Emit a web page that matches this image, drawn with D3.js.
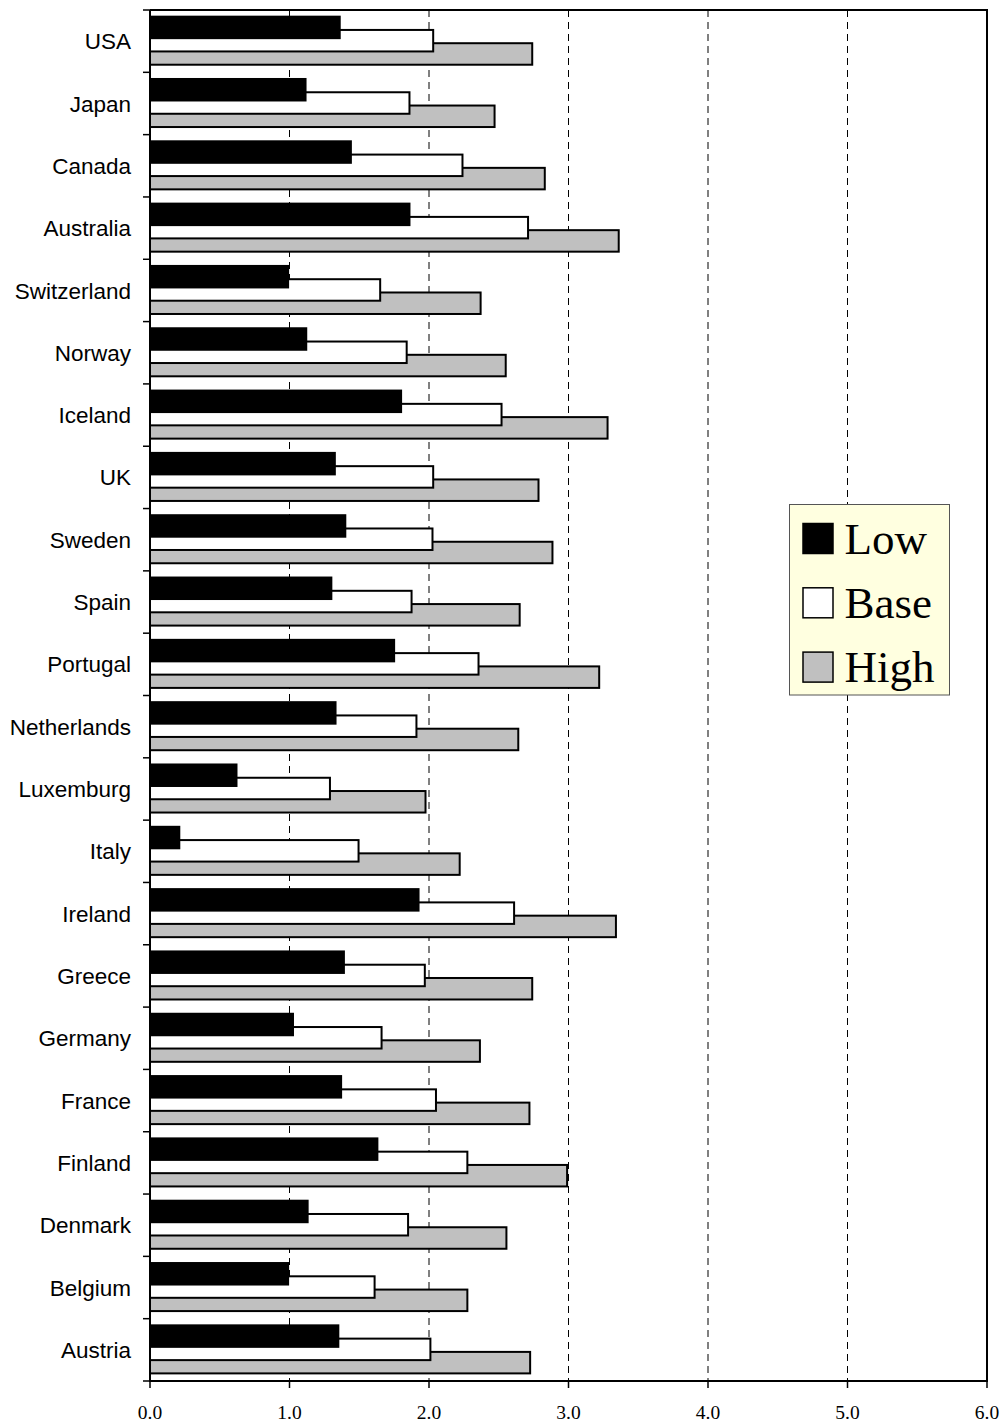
<!DOCTYPE html>
<html>
<head>
<meta charset="utf-8">
<script src="https://cdn.jsdelivr.net/npm/d3@7/dist/d3.min.js"></script>
<style>
  html, body { margin: 0; padding: 0; background: #fff; }
  svg { display: block; }
</style>
</head>
<body>
<svg id="chart" width="1004" height="1425"></svg>
<script>
// Countries, top to bottom
const countries = ["USA", "Japan", "Canada", "Australia", "Switzerland", "Norway", "Iceland",
  "UK", "Sweden", "Spain", "Portugal", "Netherlands", "Luxemburg", "Italy", "Ireland",
  "Greece", "Germany", "France", "Finland", "Denmark", "Belgium", "Austria"];

// Scenario values per country
const lowValues  = [1.36, 1.115, 1.44, 1.86, 0.99, 1.12, 1.80, 1.325, 1.40, 1.30, 1.75, 1.33,
  0.62, 0.21, 1.925, 1.39, 1.025, 1.37, 1.63, 1.13, 0.99, 1.35];
const baseValues = [2.03, 1.86, 2.24, 2.71, 1.65, 1.84, 2.52, 2.03, 2.025, 1.875, 2.355, 1.91,
  1.29, 1.495, 2.61, 1.97, 1.66, 2.05, 2.275, 1.85, 1.61, 2.01];
const highValues = [2.74, 2.47, 2.83, 3.36, 2.37, 2.55, 3.28, 2.785, 2.885, 2.65, 3.22, 2.64,
  1.975, 2.22, 3.34, 2.74, 2.365, 2.72, 2.99, 2.555, 2.275, 2.725];

const seriesNames = ["Low", "Base", "High"];
const xTicks = [0, 1, 2, 3, 4, 5, 6];

const series = [
  { name: seriesNames[0], values: lowValues,  fill: "#000000", slot: 0 },
  { name: seriesNames[1], values: baseValues, fill: "#ffffff", slot: 1 },
  { name: seriesNames[2], values: highValues, fill: "#c0c0c0", slot: 2 }
];

const svg = d3.select("#chart");
const plot = { left: 150, right: 987, top: 10, bottom: 1381 };

const x = d3.scaleLinear().domain([0, 6]).range([plot.left, plot.right]);
const y = d3.scaleBand().domain(countries).range([plot.top, plot.bottom]).padding(0);
const bw = y.bandwidth();

// Dashed vertical gridlines
svg.append("g")
  .selectAll("line")
  .data(xTicks.slice(1, -1))
  .join("line")
  .attr("x1", d => x(d)).attr("x2", d => x(d))
  .attr("y1", plot.top).attr("y2", plot.bottom)
  .attr("stroke", "#000")
  .attr("stroke-width", 1)
  .attr("stroke-dasharray", "7,5");

// Overlapping bars: High at the back, Low in front
const barH = bw * 0.345;
const barStep = bw * 0.213;
const barOff = bw * 0.107;

const drawOrder = [series[2], series[1], series[0]];
drawOrder.forEach(s => {
  svg.append("g")
    .selectAll("rect")
    .data(countries.map((c, i) => ({ c, v: s.values[i] })))
    .join("rect")
    .attr("x", x(0))
    .attr("y", d => y(d.c) + barOff + s.slot * barStep)
    .attr("width", d => x(d.v) - x(0))
    .attr("height", barH)
    .attr("fill", s.fill)
    .attr("stroke", "#000")
    .attr("stroke-width", 2);
});

// Plot frame (top and right edges)
svg.append("path")
  .attr("d", `M${plot.left},${plot.top}H${plot.right}V${plot.bottom}`)
  .attr("fill", "none")
  .attr("stroke", "#000")
  .attr("stroke-width", 2);

// Category axis
const yAxis = svg.append("g");
yAxis.append("line")
  .attr("x1", plot.left).attr("x2", plot.left)
  .attr("y1", plot.top).attr("y2", plot.bottom)
  .attr("stroke", "#000").attr("stroke-width", 2);
yAxis.selectAll("line.tick")
  .data(d3.range(countries.length + 1))
  .join("line")
  .attr("class", "tick")
  .attr("x1", plot.left - 7).attr("x2", plot.left)
  .attr("y1", i => plot.top + i * y.step())
  .attr("y2", i => plot.top + i * y.step())
  .attr("stroke", "#000").attr("stroke-width", 1.5);
yAxis.selectAll("text")
  .data(countries)
  .join("text")
  .attr("x", 131)
  .attr("y", d => y(d) + bw / 2)
  .attr("dy", "0.36em")
  .attr("text-anchor", "end")
  .attr("font-family", "'Liberation Sans', Arial, sans-serif")
  .attr("font-size", 22.5)
  .attr("fill", "#000")
  .text(d => d);

// Value axis
const xAxis = svg.append("g");
xAxis.append("line")
  .attr("x1", plot.left - 1).attr("x2", plot.right + 1)
  .attr("y1", plot.bottom).attr("y2", plot.bottom)
  .attr("stroke", "#000").attr("stroke-width", 2);
xAxis.selectAll("line.tick")
  .data(xTicks)
  .join("line")
  .attr("class", "tick")
  .attr("x1", d => x(d)).attr("x2", d => x(d))
  .attr("y1", plot.bottom).attr("y2", plot.bottom + 7)
  .attr("stroke", "#000").attr("stroke-width", 1.5);
xAxis.selectAll("text")
  .data(xTicks)
  .join("text")
  .attr("x", d => x(d))
  .attr("y", 1419)
  .attr("text-anchor", "middle")
  .attr("font-family", "'Liberation Serif', 'Times New Roman', serif")
  .attr("font-size", 19.5)
  .attr("fill", "#000")
  .text(d => d3.format(".1f")(d));

// Legend
const legend = svg.append("g").attr("transform", "translate(789.5,504.5)");
legend.append("rect")
  .attr("width", 160).attr("height", 190.5)
  .attr("fill", "#ffffe0")
  .attr("stroke", "#555").attr("stroke-width", 1);
series.forEach((s, i) => {
  const row = legend.append("g").attr("transform", `translate(0,${i * 64.3})`);
  row.append("rect")
    .attr("x", 13.5).attr("y", 19)
    .attr("width", 30).attr("height", 30)
    .attr("fill", s.fill)
    .attr("stroke", "#000").attr("stroke-width", 1.5);
  row.append("text")
    .attr("x", 55).attr("y", 49)
    .attr("font-family", "'Liberation Serif', 'Times New Roman', serif")
    .attr("font-size", 45)
    .attr("fill", "#000")
    .text(s.name);
});
</script>
</body>
</html>
